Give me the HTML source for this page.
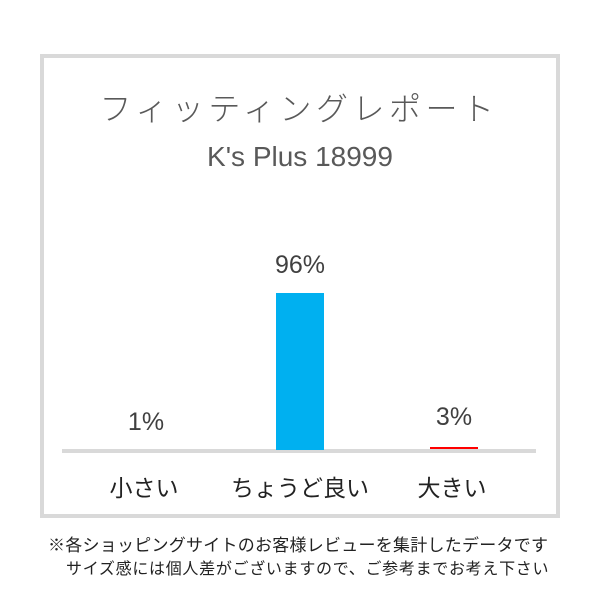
<!DOCTYPE html>
<html><head><meta charset="utf-8"><style>
body{margin:0;width:600px;height:600px;background:#fff;position:relative;overflow:hidden;font-family:"Liberation Sans","Noto Sans CJK JP",sans-serif}
.a{position:absolute;white-space:nowrap}
.c{transform:translateX(-50%)}
</style></head><body>
<div class="a" style="left:40px;top:54px;width:512px;height:456px;border:4px solid #d9d9d9"></div>
<div class="a c" style="left:299px;top:84px;font-size:32px;color:#595959;font-weight:300;letter-spacing:4.5px;font-family:'Noto Sans CJK JP',sans-serif">フィッティングレポート</div>
<div class="a c" style="left:300px;top:141px;font-size:28px;color:#595959">K's Plus 18999</div>
<div class="a" style="left:62px;top:449px;width:474px;height:4px;background:#d9d9d9"></div>
<div class="a" style="left:276px;top:293px;width:48px;height:157px;background:#00b0f0"></div>
<div class="a" style="left:430px;top:447px;width:48px;height:2px;background:#ff0000"></div>
<div class="a c" style="left:300px;top:251px;font-size:25px;color:#404040">96%</div>
<div class="a c" style="left:146px;top:408px;font-size:25px;color:#404040">1%</div>
<div class="a c" style="left:454px;top:403px;font-size:25px;color:#404040">3%</div>
<div class="a c" style="left:144px;top:469px;font-size:23px;color:#222;font-family:'Noto Sans CJK JP',sans-serif">小さい</div>
<div class="a c" style="left:300px;top:469px;font-size:23px;color:#222;font-family:'Noto Sans CJK JP',sans-serif">ちょうど良い</div>
<div class="a c" style="left:452px;top:469px;font-size:23px;color:#222;font-family:'Noto Sans CJK JP',sans-serif">大きい</div>
<div class="a" style="left:48px;top:531px;font-size:17px;letter-spacing:0.25px;color:#222;font-family:'Noto Sans CJK JP',sans-serif">※各ショッピングサイトのお客様レビューを集計したデータです</div>
<div class="a" style="left:66px;top:555px;font-size:16px;letter-spacing:0.7px;color:#222;font-family:'Noto Sans CJK JP',sans-serif">サイズ感には個人差がございますので、ご参考までお考え下さい</div>
</body></html>
